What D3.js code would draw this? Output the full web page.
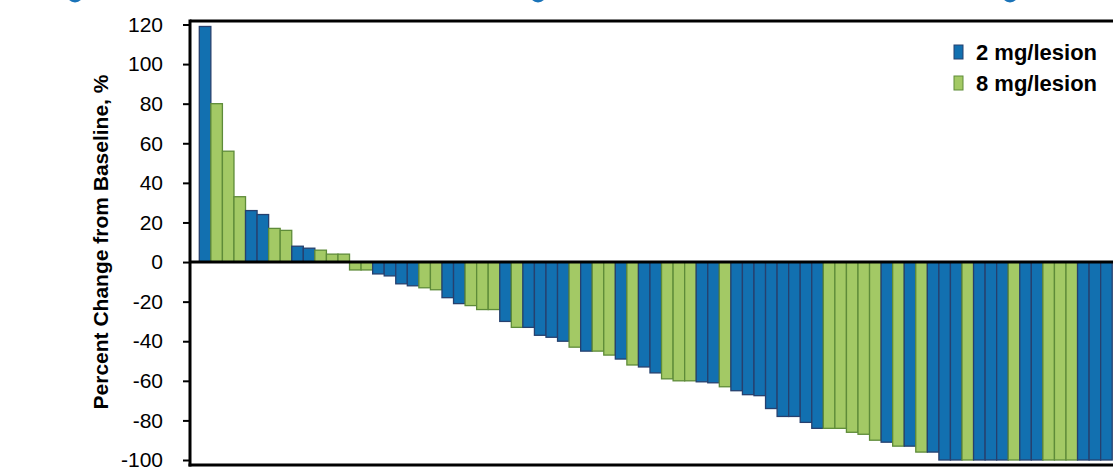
<!DOCTYPE html>
<html lang="en">
<head>
  <meta charset="UTF-8">
  <title>Percent Change from Baseline</title>
  <style>
      body { margin: 0; background: #fff; }
      svg { display: block; font-family: "Liberation Sans", Arial, sans-serif; }
      .axis path, .axis line { stroke: #000; }
      .bar { stroke-width: 1.3px; }
  </style>
</head>
<body>
<div id="chart"></div>
<script src="https://d3js.org/d3.v7.min.js"></script>
<script>
  // one entry per patient, sorted as in the waterfall
  const doses = [
    "2","8","8","8","2","2","8","8","2","2",
    "8","8","8","8","8","2","2","2","2","8",
    "8","2","2","8","8","8","2","8","2","2",
    "2","2","8","2","8","8","2","8","2","2",
    "8","8","8","2","2","8","2","2","2","2",
    "2","2","2","2","8","8","8","8","8","2",
    "8","2","8","2","2","2","8","2","2","2",
    "8","2","2","8","8","8","2","2","2"
  ];
  const changes = [
    119, 80, 56, 33, 26, 24, 17, 16, 8, 7,
    6, 4, 4, -4, -4, -6, -7, -11, -12, -13,
    -14, -18, -21, -22, -24, -24, -30, -33, -33, -37,
    -38, -40, -43, -45, -45, -47, -49, -52, -53, -56,
    -59, -60, -60, -60.5, -61, -63, -65, -67, -67.5, -74,
    -78, -78, -81, -84, -84, -84, -86, -87, -90, -91,
    -93, -93, -96, -96, -100, -100, -100, -100, -100, -100,
    -100, -100, -100, -100, -100, -100, -100, -100, -100
  ];
  const yTicks = [-100, -80, -60, -40, -20, 0, 20, 40, 60, 80, 100, 120];
  const legendLabels = ["2 mg/lesion", "8 mg/lesion"];
  const doseKeys = ["2", "8"];

  const W = 1113, H = 472;
  const plot = {left: 190, right: 1113, top: 21, bottom: 465};

  const fill = {"2": "#1270b0", "8": "#a3c965"};
  const edge = {"2": "#26406e", "8": "#5e8b39"};

  const svg = d3.select("#chart").append("svg")
    .attr("width", W)
    .attr("height", H);

  const x = d3.scaleBand()
    .domain(d3.range(changes.length))
    .range([199.3, 199.3 + changes.length * 11.556])
    .padding(0);

  const y = d3.scaleLinear()
    .domain([-100, 120])
    .range([460, 24.5]);

  // cut-off marks along the top edge
  svg.selectAll(".dot")
    .data([75, 538, 1010])
    .enter().append("ellipse")
    .attr("cx", d => d)
    .attr("cy", -6.5)
    .attr("rx", 8.5)
    .attr("ry", 9)
    .attr("fill", "#1a73b8");

  // bars
  svg.selectAll(".bar")
    .data(changes)
    .enter().append("rect")
    .attr("class", "bar")
    .attr("x", (d, i) => x(i))
    .attr("width", x.bandwidth())
    .attr("y", d => y(Math.max(0, d)))
    .attr("height", d => Math.abs(y(d) - y(0)))
    .attr("fill", (d, i) => fill[doses[i]])
    .attr("stroke", (d, i) => edge[doses[i]]);

  // zero line
  svg.append("line")
    .attr("x1", plot.left).attr("x2", plot.right)
    .attr("y1", y(0)).attr("y2", y(0))
    .attr("stroke", "#000")
    .attr("stroke-width", 3);

  // frame: top and bottom
  svg.append("line")
    .attr("x1", plot.left).attr("x2", plot.right)
    .attr("y1", plot.top).attr("y2", plot.top)
    .attr("stroke", "#000").attr("stroke-width", 3);
  svg.append("line")
    .attr("x1", plot.left - 1.5).attr("x2", plot.right)
    .attr("y1", plot.bottom).attr("y2", plot.bottom)
    .attr("stroke", "#000").attr("stroke-width", 3);

  // y axis
  const yAxis = svg.append("g")
    .attr("class", "axis")
    .attr("transform", `translate(${plot.left},0)`)
    .call(d3.axisLeft(y).tickValues(yTicks).tickSize(7).tickPadding(20)
      .tickFormat(d => String(d)));
  yAxis.select(".domain").remove();
  yAxis.selectAll(".tick line").attr("stroke-width", 2);
  yAxis.selectAll(".tick text")
    .attr("font-size", 21)
    .attr("font-family", "Liberation Sans, Arial, sans-serif")
    .attr("fill", "#000");
  svg.append("line")
    .attr("x1", plot.left).attr("x2", plot.left)
    .attr("y1", plot.top - 1.5).attr("y2", plot.bottom + 1.5)
    .attr("stroke", "#000").attr("stroke-width", 3);

  svg.append("text")
    .attr("transform", `translate(108,242) rotate(-90)`)
    .attr("text-anchor", "middle")
    .attr("font-size", 21)
    .attr("font-weight", "bold")
    .text("Percent Change from Baseline, %");

  // legend
  const legend = svg.selectAll(".legend")
    .data(doseKeys)
    .enter().append("g")
    .attr("transform", (d, i) => `translate(954,${45 + i * 31})`);
  legend.append("rect")
    .attr("width", 9)
    .attr("height", 14)
    .attr("fill", d => fill[d])
    .attr("stroke", d => edge[d])
    .attr("stroke-width", 1);
  legend.append("text")
    .attr("x", 22)
    .attr("y", 14.5)
    .attr("font-size", 22)
    .attr("font-weight", "bold")
    .text((d, i) => legendLabels[i]);
</script>
</body>
</html>
